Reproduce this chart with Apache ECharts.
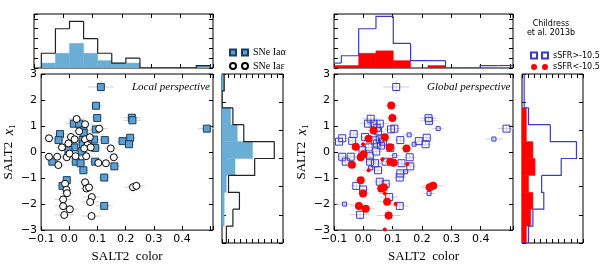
<!DOCTYPE html>
<html><head><meta charset="utf-8">
<script src="https://cdn.jsdelivr.net/npm/echarts/dist/echarts.min.js"></script>
<style>html,body{margin:0;padding:0;background:#fff}#c{width:600px;height:268px}</style>
</head><body><div id="c"></div>
<script>
// ---------- DATA ----------
// scatter points: [SALT2 color, SALT2 x1, color error, x1 error]
const alphaPts = [
 [0.112,2.50,0.045,0.25],[0.095,1.78,0.02,0.15],[0.099,1.31,0.02,0.12],[0.222,1.32,0.03,0.12],
 [0.224,1.22,0.03,0.12],[0.488,0.90,0.03,0.10],[0.016,1.09,0.03,0.12],[0.035,1.09,0.03,0.12],
 [0.050,0.83,0.03,0.12],[0.051,0.74,0.025,0.10],[0.094,0.87,0.02,0.10],[-0.033,0.69,0.02,0.10],
 [-0.038,0.46,0.02,0.10],[0.047,0.46,0.02,0.10],[0.088,0.48,0.02,0.10],[0.126,0.46,0.02,0.10],
 [0.189,0.42,0.02,0.10],[0.216,0.55,0.02,0.10],[0.212,0.30,0.02,0.10],[0.018,0.18,0.02,0.10],
 [0.048,0.30,0.02,0.10],[0.067,0.34,0.02,0.10],[0.092,0.16,0.02,0.10],[-0.003,0.07,0.02,0.10],
 [0.044,0.02,0.02,0.10],[-0.060,-0.37,0.02,0.10],[0.023,-0.37,0.02,0.10],[0.040,-0.43,0.02,0.10],
 [0.092,-0.37,0.02,0.10],[0.160,-0.55,0.02,0.10],[0.050,-0.70,0.02,0.10],[0.124,-0.98,0.02,0.10],
 [-0.009,-1.08,0.02,0.10],[-0.024,-1.30,0.02,0.10],[0.124,-2.07,0.03,0.15]
];
const epsPts = [
 [0.026,1.27,0.03,0.15],[0.056,1.07,0.03,0.12],[0.035,0.80,0.02,0.10],[0.106,0.90,0.03,0.12],
 [-0.072,0.53,0.02,0.10],[0.006,0.58,0.02,0.10],[0.019,0.49,0.02,0.10],[-0.003,0.33,0.02,0.10],
 [-0.026,0.18,0.02,0.10],[0.056,0.49,0.02,0.10],[0.073,0.57,0.02,0.10],[0.065,0.27,0.02,0.10],
 [0.053,0.14,0.02,0.10],[0.076,0.18,0.02,0.10],[0.060,-0.16,0.02,0.10],[-0.072,-0.18,0.02,0.10],
 [-0.043,-0.18,0.02,0.10],[-0.039,-0.50,0.02,0.10],[-0.009,-0.20,0.02,0.10],[0.001,-0.06,0.02,0.10],
 [0.022,-0.16,0.02,0.10],[0.103,-0.42,0.02,0.10],[0.130,-0.43,0.02,0.10],[0.147,0.14,0.02,0.10],
 [0.158,-0.20,0.02,0.10],[0.056,-1.16,0.02,0.12],[0.061,-1.40,0.02,0.12],[0.070,-1.36,0.02,0.12],
 [-0.015,-1.22,0.02,0.12],[-0.010,-1.45,0.02,0.12],[-0.008,-1.58,0.02,0.12],[-0.022,-1.82,0.03,0.15],
 [-0.022,-2.08,0.03,0.15],[0.002,-2.20,0.03,0.15],[-0.018,-2.42,0.035,0.20],[0.080,-1.73,0.03,0.15],
 [0.074,-1.92,0.03,0.15],[0.079,-2.46,0.035,0.20],[0.226,-1.35,0.03,0.20],[0.238,-1.30,0.03,0.20]
];
const hiPts = [
 [0.112,2.50,0.045,0.25],[0.025,1.28,0.03,0.15],[0.016,1.09,0.03,0.12],[0.035,1.09,0.03,0.12],
 [0.056,1.09,0.03,0.12],[0.222,1.30,0.03,0.12],[0.224,1.20,0.03,0.12],[0.488,0.90,0.03,0.10],
 [0.046,0.93,0.02,0.10],[0.050,0.80,0.02,0.10],[0.094,0.87,0.02,0.10],[0.106,0.90,0.02,0.10],
 [-0.033,0.69,0.02,0.10],[-0.072,0.53,0.02,0.10],[-0.038,0.43,0.02,0.10],[-0.083,0.40,0.02,0.10],
 [0.006,0.58,0.02,0.10],[0.040,0.45,0.02,0.10],[0.056,0.49,0.02,0.10],[0.067,0.40,0.02,0.10],
 [0.047,0.33,0.02,0.10],[0.060,0.25,0.02,0.10],[0.126,0.46,0.02,0.10],[0.189,0.42,0.02,0.10],
 [0.216,0.55,0.02,0.10],[0.212,0.30,0.02,0.10],[0.018,0.18,0.02,0.10],[0.092,0.16,0.02,0.10],
 [-0.003,0.07,0.02,0.10],[0.044,0.02,0.02,0.10],[-0.072,-0.18,0.02,0.10],[-0.043,-0.18,0.02,0.10],
 [-0.060,-0.37,0.02,0.10],[0.022,-0.16,0.02,0.10],[0.023,-0.37,0.02,0.10],[0.040,-0.43,0.02,0.10],
 [0.076,-0.37,0.02,0.10],[0.158,-0.20,0.02,0.10],[0.130,-0.43,0.02,0.10],[0.160,-0.55,0.02,0.10],
 [0.050,-0.70,0.02,0.10],[0.126,-0.82,0.02,0.10],[0.124,-0.98,0.02,0.10],[0.056,-1.14,0.02,0.12],
 [0.076,-1.22,0.02,0.12],[-0.024,-1.30,0.02,0.12],[-0.001,-1.44,0.02,0.12],[0.088,-1.73,0.03,0.15],
 [0.124,-2.07,0.03,0.15],[-0.011,-2.41,0.035,0.20]
];
const hiSmallPts = [
 [0.255,0.90,0.02,0.08],[0.445,0.50,0.03,0.08],[0.156,0.66,0.02,0.08],[0.173,0.30,0.02,0.08],
 [0.107,-0.14,0.02,0.08],[0.025,-0.61,0.02,0.08],[0.144,-0.76,0.02,0.08],[0.224,-1.59,0.02,0.08],
 [-0.064,-2.00,0.03,0.08]
];
const loPts = [
 [0.095,1.79,0.02,0.15],[0.099,1.31,0.02,0.12],[0.035,0.83,0.02,0.10],[0.018,0.51,0.02,0.10],
 [-0.026,0.20,0.02,0.10],[0.073,0.57,0.02,0.10],[0.090,0.18,0.02,0.10],[0.147,0.14,0.02,0.10],
 [-0.039,-0.49,0.02,0.10],[-0.009,-0.20,0.02,0.10],[0.001,-0.08,0.02,0.10],[0.092,-0.37,0.02,0.10],
 [0.103,-0.41,0.02,0.10],[-0.009,-1.08,0.02,0.12],[-0.001,-1.59,0.02,0.12],[0.061,-1.40,0.02,0.12],
 [0.070,-1.36,0.02,0.12],[0.081,-1.91,0.03,0.15],[-0.015,-2.07,0.03,0.15],[0.008,-2.18,0.03,0.15],
 [0.086,-2.44,0.04,0.20],[0.226,-1.35,0.03,0.20],[0.238,-1.30,0.035,0.20]
];
const loSmallPts = [
 [-0.001,0.30,0.02,0.08],[0.018,-0.70,0.02,0.08],[0.065,-0.28,0.02,0.08],[0.150,-0.46,0.02,0.08],
 [0.073,-1.59,0.02,0.08],[0.110,-2.00,0.03,0.08],[0.073,-2.98,0.03,0.10]
];
// top histograms (SALT2 color bins) and counts
const leftTopEdges = [-0.075,-0.027,0.021,0.069,0.117,0.165,0.213,0.261,0.309,0.357,0.405,0.453,0.501];
const leftTopAll   = [6,16,19,12,6,2,4,0,0,0,0,1];
const leftTopAlpha = [2,6,10,6,3,2,2,0,0,0,0,1];
const rightTopEdges = [-0.134,-0.075,-0.016,0.043,0.102,0.161,0.220,0.280,0.339,0.398,0.457,0.516];
const rightTopHi = [2,5,16,21,10,3,3,0,0,1,1];
const rightTopLo = [1,1,6,7,3,0,1,0,0,0,0];
// side histograms (SALT2 x1 bins) and counts
const x1Edges = [-3.0,-2.4,-1.8,-1.2,-0.6,0.0,0.6,1.2,1.8,2.4,3.0];
const leftSideAll   = [2,5,8,3,15,24,10,5,0,1];
const leftSideAlpha = [0,1,1,2,6,14,7,4,0,1];
const rightSideHi = [3,5,10,9,18,25,13,3,1,1];
const rightSideLo = [2,4,5,3,6,5,2,2,0,0];

// ---------- CHART ----------
const XMIN=-0.1, XMAX=0.51, YMIN=-3, YMAX=3, TOPMAX=22, SIDEMAX=28;
const SANS='DejaVu Sans', SERIF='Liberation Serif';
const C_ALPHA='#5b9fd3', C_ALPHA_E='#1d3c5a', C_HIST='#6aaed6', C_BLUE='#3a3acc', C_RED='#ff0000', C_ERR='#cfcfcf';

function binItems(edges,counts){return counts.map((h,i)=>[edges[i],edges[i+1],h,i?counts[i-1]:0,i===counts.length-1?1:0]);}
function fmtX(v){ if(v>0.45) return ''; return (v<-1e-9?'\u2212':'')+Math.abs(v).toFixed(1); }
function fmtY(v){ return (v<0?'\u2212':'')+Math.abs(v); }
const tick={show:true,inside:true,length:4,lineStyle:{color:'#000',width:1}};
const noLine={show:false,onZero:false}, noSplit={show:false};

function colAxis(g,pos,lab,name){
  return {type:'value',gridIndex:g,position:pos,min:XMIN,max:XMAX,interval:0.1,axisLine:noLine,axisTick:tick,splitLine:noSplit,
    axisLabel:{show:lab,formatter:fmtX,fontFamily:SANS,fontSize:11,color:'#000',margin:4},
    name:name||'',nameLocation:'middle',nameGap:19,nameTextStyle:{fontFamily:SERIF,fontSize:13,color:'#000'}};
}
function x1Axis(g,pos,lab,name){
  return {type:'value',gridIndex:g,position:pos,min:YMIN,max:YMAX,interval:1,axisLine:noLine,axisTick:tick,splitLine:noSplit,
    axisLabel:{show:lab,formatter:fmtY,fontFamily:SANS,fontSize:11,color:'#000',margin:4},
    name:name||'',nameLocation:'middle',nameGap:20,
    nameTextStyle:{fontFamily:SERIF,fontSize:13,color:'#000',lineHeight:16,
      rich:{i:{fontFamily:SERIF,fontStyle:'italic',fontSize:14,lineHeight:16},
            s:{fontFamily:SERIF,fontSize:9,lineHeight:9,verticalAlign:'bottom'}}}};
}
function cntAxis(g,pos,max,interval){
  return {type:'value',gridIndex:g,position:pos,min:0,max:max,interval:interval,axisLine:noLine,axisTick:tick,splitLine:noSplit,axisLabel:{show:false}};
}

function topFill(color){return (p,api)=>{
  const lo=Math.max(api.value(0),XMIN), hi=Math.min(api.value(1),XMAX), h=api.value(2);
  if(h<=0||hi<=lo) return;
  const a=api.coord([lo,h]), b=api.coord([hi,0]);
  return {type:'rect',shape:{x:a[0],y:a[1],width:b[0]-a[0],height:b[1]-a[1]},style:{fill:color,stroke:color,lineWidth:0.5}};
};}
function topStep(color){return (p,api)=>{
  const lo0=api.value(0), hi0=api.value(1), h=api.value(2), ph=api.value(3), last=api.value(4);
  const lo=Math.max(lo0,XMIN), hi=Math.min(hi0,XMAX);
  if(hi<=lo) return;
  const pts=[];
  if(lo0>=XMIN) pts.push(api.coord([lo,ph]));
  pts.push(api.coord([lo,h])); pts.push(api.coord([hi,h]));
  if(last&&hi0<=XMAX) pts.push(api.coord([hi,0]));
  return {type:'polyline',shape:{points:pts},style:{stroke:color,lineWidth:1.2,fill:'none'}};
};}
function sideFill(color){return (p,api)=>{
  const lo=api.value(0), hi=api.value(1), h=api.value(2);
  if(h<=0) return;
  const a=api.coord([0,hi]), b=api.coord([h,lo]);
  return {type:'rect',shape:{x:a[0],y:a[1],width:b[0]-a[0],height:b[1]-a[1]},style:{fill:color,stroke:color,lineWidth:0.5}};
};}
function sideStep(color){return (p,api)=>{
  const lo=api.value(0), hi=api.value(1), h=api.value(2), ph=api.value(3), last=api.value(4);
  const pts=[api.coord([ph,lo]),api.coord([h,lo]),api.coord([h,hi])];
  if(last) pts.push(api.coord([0,hi]));
  return {type:'polyline',shape:{points:pts},style:{stroke:color,lineWidth:1.2,fill:'none'}};
};}
function errBars(p,api){
  const x=api.value(0), y=api.value(1), ex=api.value(2), ey=api.value(3);
  const a=api.coord([x-ex,y]), b=api.coord([x+ex,y]), c=api.coord([x,y-ey]), d=api.coord([x,y+ey]);
  return {type:'group',children:[
    {type:'line',shape:{x1:a[0],y1:a[1],x2:b[0],y2:b[1]},style:{stroke:C_ERR,lineWidth:1}},
    {type:'line',shape:{x1:c[0],y1:c[1],x2:d[0],y2:d[1]},style:{stroke:C_ERR,lineWidth:1}}]};
}
function custom(xi,yi,data,render,enc,z){return {type:'custom',xAxisIndex:xi,yAxisIndex:yi,data:data,renderItem:render,encode:enc,clip:true,z:z||2,silent:true};}
const topEnc={x:[0,1],y:2}, sideEnc={x:2,y:[0,1]}, errEnc={x:0,y:1};

const grids=[
 {left:34,top:14,width:179,height:54},
 {left:34,top:74,width:179,height:169},
 {left:222,top:74,width:61,height:169},
 {left:334,top:14,width:179,height:54},
 {left:334,top:74,width:179,height:169},
 {left:522,top:74,width:61,height:169}
].map(g=>Object.assign(g,{show:true,borderColor:'#000',borderWidth:1,backgroundColor:'transparent'}));

const xAxes=[
 colAxis(0,'bottom',false), colAxis(0,'top',false),
 colAxis(1,'bottom',true,'SALT2  color'), colAxis(1,'top',false),
 cntAxis(2,'bottom',SIDEMAX,2.8), cntAxis(2,'top',SIDEMAX,2.8),
 colAxis(3,'bottom',false), colAxis(3,'top',false),
 colAxis(4,'bottom',true,'SALT2  color'), colAxis(4,'top',false),
 cntAxis(5,'bottom',SIDEMAX,2.8), cntAxis(5,'top',SIDEMAX,2.8)
];
const yName='SALT2  {i|x}{s|1}';
const yAxes=[
 cntAxis(0,'left',TOPMAX,4), cntAxis(0,'right',TOPMAX,4),
 x1Axis(1,'left',true,yName), x1Axis(1,'right',false),
 x1Axis(2,'left',false), x1Axis(2,'right',false),
 cntAxis(3,'left',TOPMAX,4), cntAxis(3,'right',TOPMAX,4),
 x1Axis(4,'left',true,yName), x1Axis(4,'right',false),
 x1Axis(5,'left',false), x1Axis(5,'right',false)
];

const series=[
 custom(0,0,binItems(leftTopEdges,leftTopAlpha),topFill(C_HIST),topEnc,2),
 custom(0,0,binItems(leftTopEdges,leftTopAll),topStep('#222'),topEnc,3),
 custom(2,2,alphaPts.concat(epsPts),errBars,errEnc,1),
 {type:'scatter',name:'SNe Ia\u03b1',xAxisIndex:2,yAxisIndex:2,data:alphaPts,symbol:'rect',symbolSize:7,z:3,
   itemStyle:{color:C_ALPHA,borderColor:C_ALPHA_E,borderWidth:1,opacity:1}},
 {type:'scatter',name:'SNe Ia\u03b5',xAxisIndex:2,yAxisIndex:2,data:epsPts,symbol:'circle',symbolSize:7,z:4,
   itemStyle:{color:'#fff',borderColor:'#000',borderWidth:1,opacity:1}},
 custom(4,4,binItems(x1Edges,leftSideAlpha),sideFill(C_HIST),sideEnc,2),
 custom(4,4,binItems(x1Edges,leftSideAll),sideStep('#222'),sideEnc,3),

 custom(6,6,binItems(rightTopEdges,rightTopLo),topFill(C_RED),topEnc,2),
 custom(6,6,binItems(rightTopEdges,rightTopHi),topStep(C_BLUE),topEnc,3),
 custom(8,8,hiPts.concat(hiSmallPts,loPts,loSmallPts),errBars,errEnc,1),
 {type:'scatter',name:'sSFR>-10.5',xAxisIndex:8,yAxisIndex:8,data:hiPts,symbol:'rect',symbolSize:7,z:3,
   itemStyle:{color:'rgba(255,255,255,0)',borderColor:C_BLUE,borderWidth:1,opacity:1}},
 {type:'scatter',name:'sSFR>-10.5 small',xAxisIndex:8,yAxisIndex:8,data:hiSmallPts,symbol:'rect',symbolSize:4,z:3,
   itemStyle:{color:'rgba(255,255,255,0)',borderColor:C_BLUE,borderWidth:1,opacity:1}},
 {type:'scatter',name:'sSFR<-10.5',xAxisIndex:8,yAxisIndex:8,data:loPts,symbol:'circle',symbolSize:8,z:4,
   itemStyle:{color:C_RED,borderColor:C_RED,borderWidth:0,opacity:1}},
 {type:'scatter',name:'sSFR<-10.5 small',xAxisIndex:8,yAxisIndex:8,data:loSmallPts,symbol:'circle',symbolSize:4,z:4,
   itemStyle:{color:C_RED,opacity:1}},
 custom(10,10,binItems(x1Edges,rightSideLo),sideFill(C_RED),sideEnc,2),
 custom(10,10,binItems(x1Edges,rightSideHi),sideStep(C_BLUE),sideEnc,3)
];

const twoSq7='path://M0,0H6V6H0Z M12,0H18V6H12Z';
const twoCi7='path://M6,3A3,3 0 1,1 0,3A3,3 0 1,1 6,3Z M18,3A3,3 0 1,1 12,3A3,3 0 1,1 18,3Z';
const twoSq6='path://M0,0H6V6H0Z M11,0H17V6H11Z';
const twoCi6='path://M6,3A3,3 0 1,1 0,3A3,3 0 1,1 6,3Z M17,3A3,3 0 1,1 11,3A3,3 0 1,1 17,3Z';

const option={
  animation:false,
  grid:grids, xAxis:xAxes, yAxis:yAxes, series:series,
  legend:[
   {left:224,top:41.5,orient:'vertical',itemWidth:18,itemHeight:6,itemGap:1.5,selectedMode:false,
    textStyle:{fontFamily:SERIF,fontSize:10,lineHeight:12,color:'#000'},
    data:[{name:'SNe Ia\u03b1',icon:twoSq7},{name:'SNe Ia\u03b5',icon:twoCi7}]},
   {left:525,top:45.5,orient:'vertical',itemWidth:17,itemHeight:6,itemGap:1.6,selectedMode:false,
    textStyle:{fontFamily:SANS,fontSize:8,lineHeight:10,color:'#000'},
    data:[{name:'sSFR>-10.5',icon:twoSq6},{name:'sSFR<-10.5',icon:twoCi6}]}
  ],
  graphic:[
   {type:'text',left:132,top:82,silent:true,style:{text:'Local perspective',font:'italic 11px "Liberation Serif"',fill:'#000'}},
   {type:'text',left:427,top:82,silent:true,style:{text:'Global perspective',font:'italic 11px "Liberation Serif"',fill:'#000'}},
   {type:'text',x:551,y:19,silent:true,style:{text:'Childress\net al. 2013b',font:'8px "DejaVu Sans"',fill:'#000',align:'center',verticalAlign:'top',lineHeight:9.5}}
  ]
};
const chart=echarts.init(document.getElementById('c'),null,{renderer:'canvas'});
chart.setOption(option);
</script></body></html>
